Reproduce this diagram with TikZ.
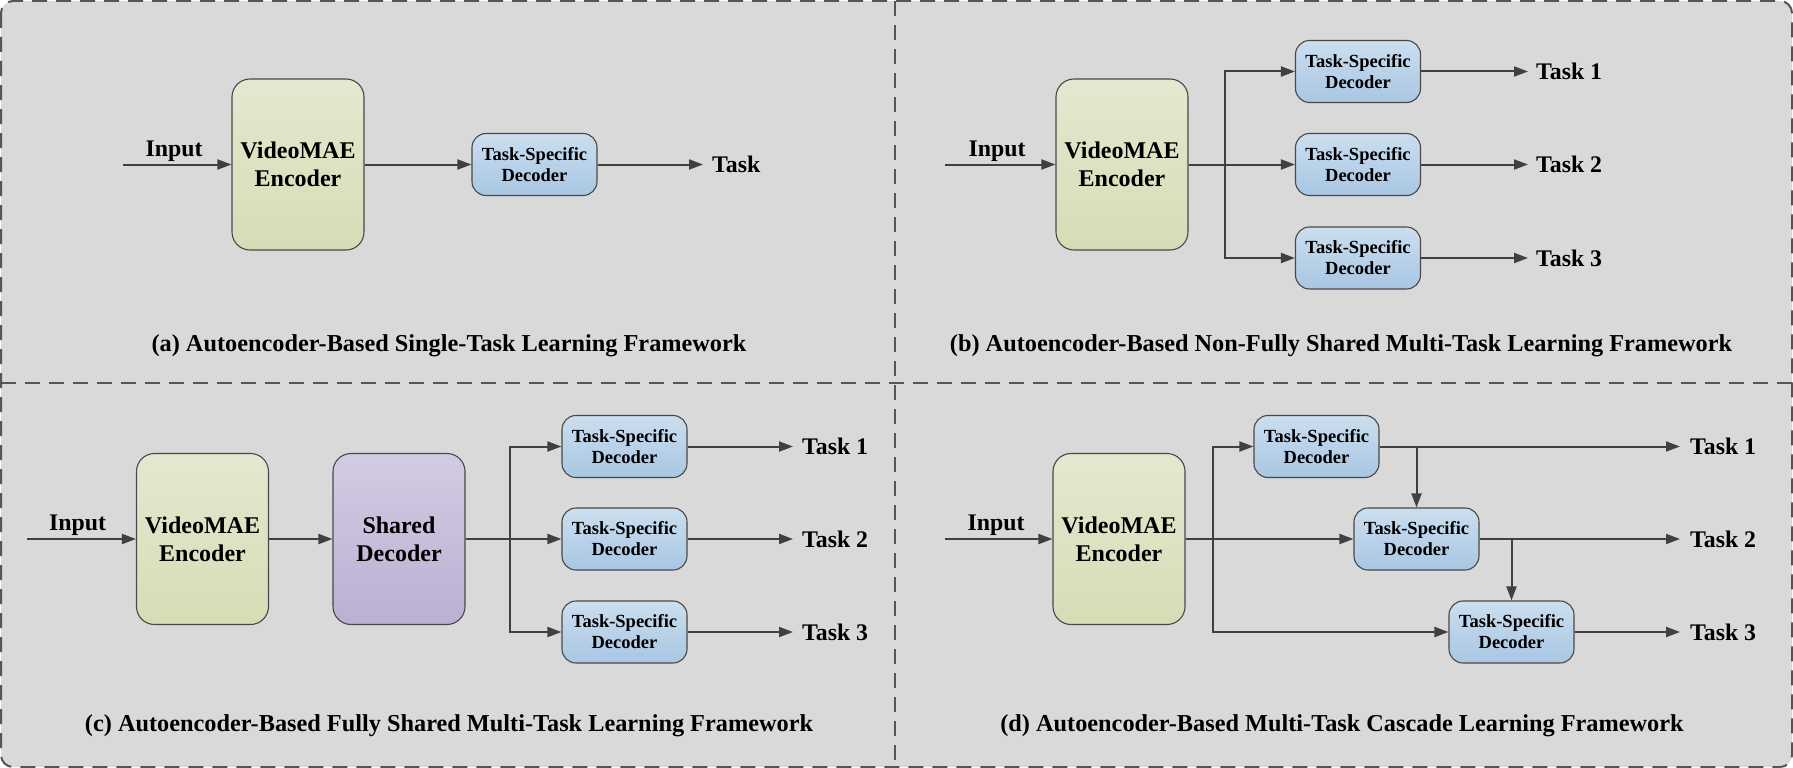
\documentclass[tikz,border=0pt]{standalone}
\usepackage{fontspec}
\setmainfont{Liberation Serif}
\usetikzlibrary{arrows.meta}
\definecolor{bg}{HTML}{D9D9D9}
\definecolor{boxline}{HTML}{484848}
\definecolor{arrowc}{HTML}{404040}
\definecolor{dashc}{HTML}{555555}
\definecolor{encTop}{RGB}{227,233,208}
\definecolor{encBot}{RGB}{213,221,181}
\definecolor{shTop}{RGB}{210,204,226}
\definecolor{shBot}{RGB}{186,176,211}
\definecolor{decTop}{RGB}{204,222,239}
\definecolor{decBot}{RGB}{168,198,227}
\begin{document}
\begin{tikzpicture}[x=1pt,y=-1pt,
  enc/.style={draw=boxline, line width=1.1pt, rounded corners=18pt, minimum width=132pt, minimum height=171pt,
    top color=encTop, bottom color=encBot, align=center, font=\fontsize{24}{28}\selectfont\bfseries, inner sep=0pt},
  shd/.style={enc, top color=shTop, bottom color=shBot},
  dec/.style={draw=boxline, line width=1.1pt, rounded corners=14pt, minimum width=125pt, minimum height=62pt,
    top color=decTop, bottom color=decBot, align=center, font=\fontsize{18.5}{21}\selectfont\bfseries, inner sep=0pt},
  lbl/.style={font=\fontsize{23.8}{28}\selectfont\bfseries, inner sep=0pt, anchor=base},
  tlbl/.style={lbl, anchor=base west},
  captxt/.style={font=\fontsize{24.3}{28}\selectfont\bfseries, inner sep=0pt, anchor=base},
  arr/.style={draw=arrowc, line width=2pt, -{Triangle[length=14pt,width=10pt]}},
  frame/.style={draw=dashc, line width=2pt, dash pattern=on 15pt off 9pt}
]
\useasboundingbox (0,0) rectangle (1793,768);
\draw[frame, fill=bg, rounded corners=12pt] (1,1) rectangle (1792,767);
\draw[frame] (895,1) -- (895,767);
\draw[frame] (1,383) -- (1792,383);

% ---------- (a) ----------
\node[enc] (encA) at (298,164.5) {VideoMAE\\Encoder};
\node[dec] (decA) at (534.5,164.5) {Task-Specific\\Decoder};
\coordinate (inA) at (123,164.5);
\coordinate (outA) at (703,164.5);
\node[lbl] (lblInA) at (174,156) {Input};
\node[tlbl] (lblTA) at (712,172.5) {Task};
\draw[arr] (inA) -- (encA.west);
\draw[arr] (encA.east) -- (decA.west);
\draw[arr] (decA.east) -- (outA);
\node[captxt] (capA) at (449,351) {(a) Autoencoder-Based Single-Task Learning Framework};

% ---------- (b) ----------
\node[enc] (encB) at (1122,164.5) {VideoMAE\\Encoder};
\node[dec] (decB1) at (1358,71.5) {Task-Specific\\Decoder};
\node[dec] (decB2) at (1358,164.5) {Task-Specific\\Decoder};
\node[dec] (decB3) at (1358,258) {Task-Specific\\Decoder};
\coordinate (inB) at (945,164.5);
\coordinate (brB) at (1225,164.5);
\coordinate (oB1) at (1528,71.5);
\coordinate (oB2) at (1528,164.5);
\coordinate (oB3) at (1528,258);
\node[lbl] (lblInB) at (997,156) {Input};
\draw[arr] (inB) -- (encB.west);
\draw[arr] (encB.east) -- (decB2.west);
\draw[arr] (encB.east) -- (brB) |- (decB1.west);
\draw[arr] (encB.east) -- (brB) |- (decB3.west);
\draw[arr] (decB1.east) -- (oB1);
\draw[arr] (decB2.east) -- (oB2);
\draw[arr] (decB3.east) -- (oB3);
\node[tlbl] (lblTB1) at (1536,79.5) {Task 1};
\node[tlbl] (lblTB2) at (1536,172.5) {Task 2};
\node[tlbl] (lblTB3) at (1536,266) {Task 3};
\node[captxt] (capB) at (1341,351) {(b) Autoencoder-Based Non-Fully Shared Multi-Task Learning Framework};

% ---------- (c) ----------
\node[enc] (encC) at (202.5,539) {VideoMAE\\Encoder};
\node[shd] (shC) at (399,539) {Shared\\Decoder};
\node[dec] (decC1) at (624.5,446.5) {Task-Specific\\Decoder};
\node[dec] (decC2) at (624.5,539) {Task-Specific\\Decoder};
\node[dec] (decC3) at (624.5,632) {Task-Specific\\Decoder};
\coordinate (inC) at (27,539);
\coordinate (brC) at (510,539);
\coordinate (oC1) at (793,446.5);
\coordinate (oC2) at (793,539);
\coordinate (oC3) at (793,632);
\node[lbl] (lblInC) at (77.5,530) {Input};
\draw[arr] (inC) -- (encC.west);
\draw[arr] (encC.east) -- (shC.west);
\draw[arr] (shC.east) -- (decC2.west);
\draw[arr] (shC.east) -- (brC) |- (decC1.west);
\draw[arr] (shC.east) -- (brC) |- (decC3.west);
\draw[arr] (decC1.east) -- (oC1);
\draw[arr] (decC2.east) -- (oC2);
\draw[arr] (decC3.east) -- (oC3);
\node[tlbl] (lblTC1) at (802,454.5) {Task 1};
\node[tlbl] (lblTC2) at (802,547) {Task 2};
\node[tlbl] (lblTC3) at (802,640) {Task 3};
\node[captxt] (capC) at (449,731) {(c) Autoencoder-Based Fully Shared Multi-Task Learning Framework};

% ---------- (d) ----------
\node[enc] (encD) at (1119,539) {VideoMAE\\Encoder};
\node[dec] (decD1) at (1316.5,446.5) {Task-Specific\\Decoder};
\node[dec] (decD2) at (1416.5,539) {Task-Specific\\Decoder};
\node[dec] (decD3) at (1511.5,632) {Task-Specific\\Decoder};
\coordinate (inD) at (945,539);
\coordinate (brD) at (1213,539);
\coordinate (oD1) at (1680,446.5);
\coordinate (oD2) at (1680,539);
\coordinate (oD3) at (1680,632);
\node[lbl] (lblInD) at (996,530) {Input};
\draw[arr] (inD) -- (encD.west);
\draw[arr] (encD.east) -- (decD2.west);
\draw[arr] (encD.east) -- (brD) |- (decD1.west);
\draw[arr] (encD.east) -- (brD) |- (decD3.west);
\draw[arr] (decD1.east) -- (oD1);
\draw[arr] (decD2.east) -- (oD2);
\draw[arr] (decD3.east) -- (oD3);
\draw[arr] (decD2.north |- decD1.east) -- (decD2.north);
\draw[arr] (decD3.north |- decD2.east) -- (decD3.north);
\node[tlbl] (lblTD1) at (1690,454.5) {Task 1};
\node[tlbl] (lblTD2) at (1690,547) {Task 2};
\node[tlbl] (lblTD3) at (1690,640) {Task 3};
\node[captxt] (capD) at (1342,731) {(d) Autoencoder-Based Multi-Task Cascade Learning Framework};
\end{tikzpicture}
\end{document}
